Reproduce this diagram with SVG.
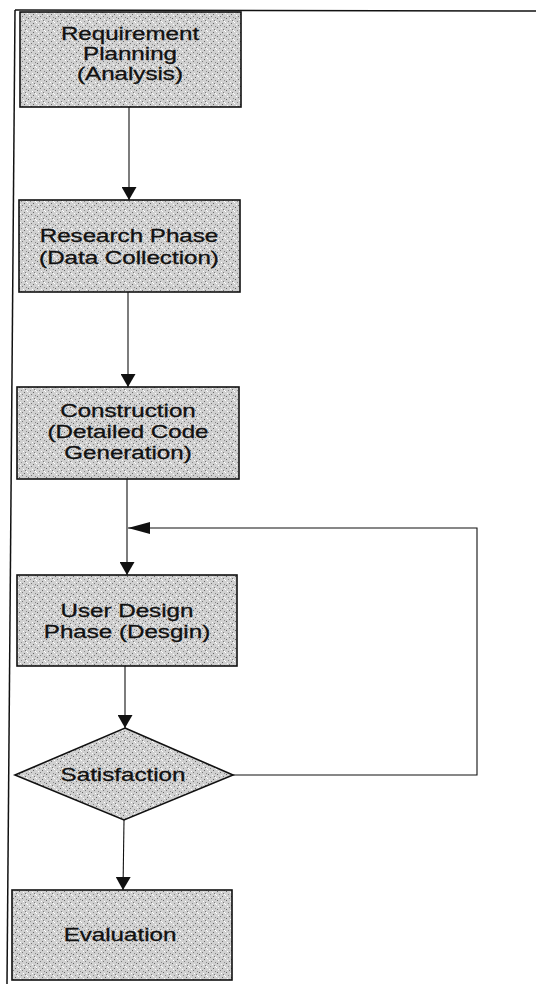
<svg xmlns="http://www.w3.org/2000/svg" width="536" height="984" viewBox="0 0 536 984">
<style>
.box{fill:url(#stipple);stroke:#111;stroke-width:1.6}
.lbl{font-family:"Liberation Sans",Arial,sans-serif;font-size:17.5px;fill:#111;stroke:#111;stroke-width:0.3;text-anchor:middle}
.conn{fill:none;stroke:#111;stroke-width:1.1}
.frame{fill:none;stroke:#111;stroke-width:1.5}
</style>
<defs>
<pattern id="stipple" width="9" height="9" patternUnits="userSpaceOnUse">
<rect width="9" height="9" fill="#d0d0d0"/>
<rect x="1" y="0" width="1" height="1" fill="#666"/>
<rect x="5" y="1" width="1" height="1" fill="#fff"/>
<rect x="7" y="2" width="1" height="1" fill="#777"/>
<rect x="3" y="3" width="1" height="1" fill="#888"/>
<rect x="0" y="4" width="1" height="1" fill="#fff"/>
<rect x="6" y="5" width="1" height="1" fill="#666"/>
<rect x="2" y="6" width="1" height="1" fill="#fff"/>
<rect x="4" y="7" width="1" height="1" fill="#777"/>
<rect x="8" y="8" width="1" height="1" fill="#888"/>
<rect x="8" y="3" width="1" height="1" fill="#fff"/>
</pattern>
<marker id="arrV" markerUnits="userSpaceOnUse" markerWidth="13" markerHeight="15" refX="13" refY="7.5" orient="auto" viewBox="0 0 13 15">
<path d="M0,0 L13,7.5 L0,15 Z" fill="#111"/>
</marker>
<marker id="arrH" markerUnits="userSpaceOnUse" markerWidth="22" markerHeight="12" refX="22" refY="6" orient="auto" viewBox="0 0 22 12">
<path d="M0,0 L22,6 L0,12 Z" fill="#111"/>
</marker>
</defs>

<g id="frame">
<line class="frame" x1="15" y1="10" x2="536" y2="11"/>
<line class="frame" x1="15" y1="10" x2="7" y2="984"/>
</g>

<g id="connectors">
<line class="conn" x1="129" y1="107" x2="129" y2="200" marker-end="url(#arrV)"/>
<line class="conn" x1="128" y1="292" x2="128" y2="387" marker-end="url(#arrV)"/>
<line class="conn" x1="127" y1="479" x2="127" y2="575" marker-end="url(#arrV)"/>
<line class="conn" x1="125" y1="666" x2="125" y2="728" marker-end="url(#arrV)"/>
<line class="conn" x1="124" y1="820" x2="123" y2="890" marker-end="url(#arrV)"/>
<polyline class="conn" points="233,775 477,775 477,528 128,528" marker-end="url(#arrH)"/>
</g>

<g id="requirement-planning">
<rect class="box" x="20" y="12" width="221" height="95"/>
<text class="lbl" transform="translate(130 0) scale(1.38 1)"><tspan x="0" y="40">Requirement</tspan><tspan x="0" y="60">Planning</tspan><tspan x="0" y="80">(Analysis)</tspan></text>
</g>

<g id="research-phase">
<rect class="box" x="19" y="200" width="221" height="92"/>
<text class="lbl" transform="translate(129 0) scale(1.38 1)"><tspan x="0" y="242">Research Phase</tspan><tspan x="0" y="264">(Data Collection)</tspan></text>
</g>

<g id="construction">
<rect class="box" x="17" y="387" width="222" height="92"/>
<text class="lbl" transform="translate(128 0) scale(1.38 1)"><tspan x="0" y="417">Construction</tspan><tspan x="0" y="438">(Detailed Code</tspan><tspan x="0" y="459">Generation)</tspan></text>
</g>

<g id="user-design">
<rect class="box" x="17" y="575" width="220" height="91"/>
<text class="lbl" transform="translate(127 0) scale(1.38 1)"><tspan x="0" y="617">User Design</tspan><tspan x="0" y="638">Phase (Desgin)</tspan></text>
</g>

<g id="satisfaction">
<polygon class="box" points="125,728 233,775 124,820 15,775"/>
<text class="lbl" transform="translate(123 0) scale(1.38 1)" x="0" y="781">Satisfaction</text>
</g>

<g id="evaluation">
<rect class="box" x="12" y="890" width="220" height="90"/>
<text class="lbl" transform="translate(120 0) scale(1.38 1)" x="0" y="941">Evaluation</text>
</g>
</svg>
